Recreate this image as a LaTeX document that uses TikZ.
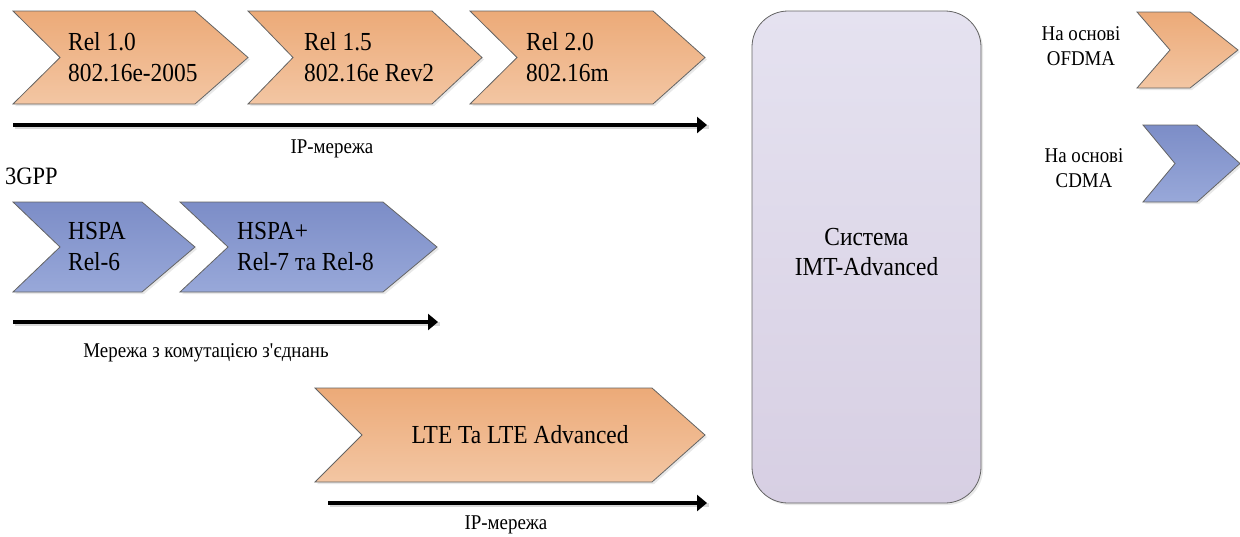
\documentclass[tikz,border=0pt]{standalone}
\usepackage{fontspec}
\setmainfont[FakeStretch=0.9]{Liberation Serif}
\usetikzlibrary{arrows.meta,shadows}
\definecolor{orTop}{RGB}{236,170,120}
\definecolor{orBot}{RGB}{243,198,163}
\definecolor{blTop}{RGB}{124,141,199}
\definecolor{blBot}{RGB}{152,168,217}
\definecolor{lvTop}{RGB}{229,226,240}
\definecolor{lvBot}{RGB}{215,207,227}
\definecolor{edge}{RGB}{100,100,100}
\tikzset{
  orangefill/.style={top color=orTop,bottom color=orBot,draw=edge,line width=0.8pt,
    drop shadow={shadow xshift=2pt,shadow yshift=-2pt,opacity=0.18}},
  bluefill/.style={top color=blTop,bottom color=blBot,draw=edge,line width=0.8pt,
    drop shadow={shadow xshift=2pt,shadow yshift=-2pt,opacity=0.18}},
  chevtext/.style={anchor=west,align=left,inner sep=0pt,font=\fontsize{26}{31}\selectfont},
  smalltext/.style={inner sep=0pt,align=center,font=\fontsize{21}{25}\selectfont},
  bigarrow/.style={line width=4pt,-{Triangle[length=10pt,width=16pt]},
    preaction={draw=black!15,line width=4pt,transform canvas={xshift=1.5pt,yshift=-2pt},-}},
}
% #1 left x, #2 notch depth, #3 right tip x, #4 tip depth, #5 top y, #6 bottom y, #7 style
\newcommand\chevpath[7]{%
  \path[#7] (#1,#5) -- (#3-#4,#5) -- (#3,{(#5+#6)/2}) -- (#3-#4,#6) -- (#1,#6)
    -- (#1+#2,{(#5+#6)/2}) -- cycle;}
\begin{document}
\begin{tikzpicture}[x=1pt,y=-1pt]
\useasboundingbox (0,0) rectangle (1240,536);
% Row 1 (WiMAX)
\chevpath{13}{47}{248}{53}{11}{104}{orangefill}
\chevpath{248}{45}{482}{50}{11}{104}{orangefill}
\chevpath{470}{47}{705}{52}{11}{104}{orangefill}
\node[chevtext] (r10) at (68,57) {Rel 1.0\\802.16e-2005};
\node[chevtext] (r15) at (304,57) {Rel 1.5\\802.16e Rev2};
\node[chevtext] (r20) at (526,57) {Rel 2.0\\802.16m};
\coordinate (a1s) at (13,125);
\coordinate (a1e) at (707,125);
\draw[bigarrow] (a1s) -- (a1e);
\node[smalltext] (ip1) at (332,149) {IP-мережа};
% Row 2 (3GPP)
\node[inner sep=0pt,anchor=west,font=\fontsize{25}{30}\selectfont] (gpp) at (5,176) {3GPP};
\chevpath{13}{47}{195}{53}{202}{292}{bluefill}
\chevpath{180}{48}{437}{54}{202}{292}{bluefill}
\node[chevtext] (hspa) at (68,247) {HSPA\\Rel-6};
\node[chevtext] (hspap) at (237,247) {HSPA+\\Rel-7 та Rel-8};
\coordinate (a2s) at (13,322);
\coordinate (a2e) at (438,322);
\draw[bigarrow] (a2s) -- (a2e);
\node[smalltext] (cs) at (206,353) {Мережа з комутацією з\textquotesingle єднань};
% Row 3 (LTE)
\chevpath{315}{47}{705}{53}{388}{482}{orangefill}
\node[inner sep=0pt,font=\fontsize{26}{31}\selectfont] (lte) at (520,435) {LTE Ta LTE Advanced};
\coordinate (a3s) at (328,503);
\coordinate (a3e) at (707,503);
\draw[bigarrow] (a3s) -- (a3e);
\node[smalltext] (ip3) at (506,525) {IP-мережа};
% IMT-Advanced
\node[draw=edge,line width=0.8pt,rounded corners=36pt,top color=lvTop,bottom color=lvBot,
  minimum width=229pt,minimum height=492pt,inner sep=0pt,
  drop shadow={shadow xshift=2pt,shadow yshift=-2pt,opacity=0.18}] (imt) at (866.5,257) {};
\node[inner sep=0pt,align=center,font=\fontsize{26}{30}\selectfont] (imtt) at (866.5,252) {Система\\IMT-Advanced};
% Legend
\chevpath{1137}{33}{1238}{48}{12}{88}{orangefill}
\node[smalltext] (lg1) at (1081,46) {На основі\\OFDMA};
\chevpath{1143}{32}{1240}{43}{125}{202}{bluefill}
\node[smalltext] (lg2) at (1084,168) {На основі\\CDMA};
\end{tikzpicture}
\end{document}
